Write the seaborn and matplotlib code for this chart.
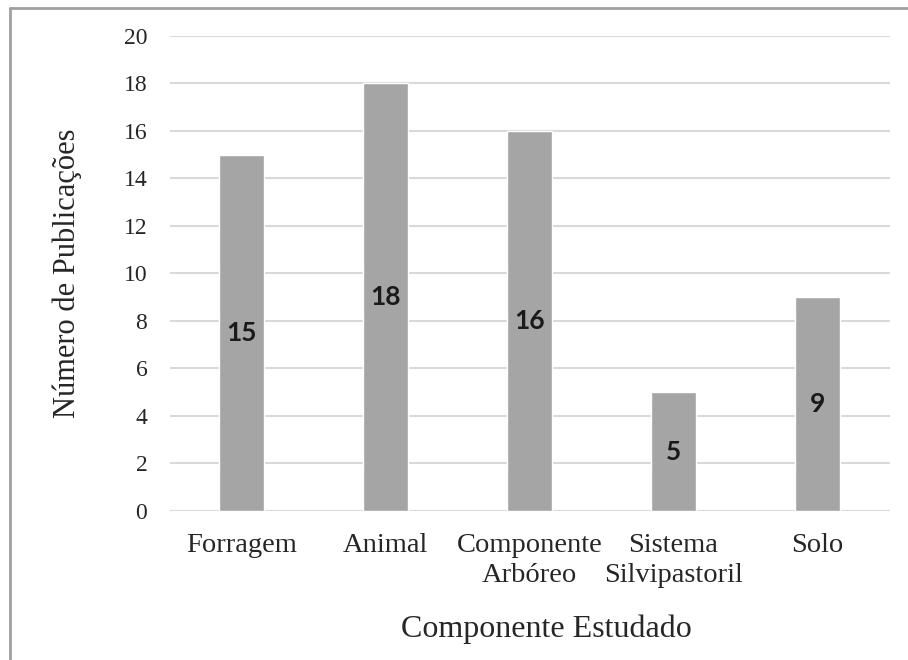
import matplotlib
matplotlib.use("Agg")
import matplotlib.pyplot as plt
from matplotlib.lines import Line2D
import pandas as pd
import seaborn as sns

componentes = ["Forragem", "Animal", "Componente\nArbóreo", "Sistema\nSilvipastoril", "Solo"]
publicacoes = [15, 18, 16, 5, 9]
y_ticks = [0, 2, 4, 6, 8, 10, 12, 14, 16, 18, 20]

df = pd.DataFrame({"Componente": componentes, "Publicacoes": publicacoes})

sns.set_theme(style="white")
plt.rcParams["font.family"] = ["Liberation Serif", "DejaVu Serif"]

W, H = 908, 660
fig = plt.figure(figsize=(W / 100, H / 100), dpi=100)
ax = fig.add_axes([169.5 / W, 1 - 511 / H, (889.5 - 169.5) / W, (511 - 35.7) / H])

sns.barplot(data=df, x="Componente", y="Publicacoes", color="#a5a5a5",
            saturation=1, width=0.3125, ax=ax, zorder=3)

ax.set_ylim(0, 20)
ax.set_xlim(-0.5, 4.5)
ax.set_yticks(y_ticks)
ax.yaxis.grid(True, color="#d9d9d9", linewidth=1.5, zorder=0)
ax.xaxis.grid(False)
for s in ax.spines.values():
    s.set_visible(False)
ax.tick_params(axis="y", length=0, pad=16, labelsize=17, labelcolor="#262626")
ax.tick_params(axis="x", length=0, pad=16, labelsize=20.5, labelcolor="#262626")
for lab in ax.get_xticklabels():
    lab.set_linespacing(1.25)

ax.set_ylabel("Número de Publicações", fontsize=22, color="#262626", labelpad=30)
ax.set_xlabel("Componente Estudado", fontsize=23, color="#262626")
ax.xaxis.set_label_coords(0.523, -0.218)

for cont in ax.containers:
    ax.bar_label(cont, fmt="%d", label_type="center", fontsize=19,
                 fontweight="bold", family=["Lato", "DejaVu Sans"], color="#1a1a1a")

# frame lines along the left and top edges
fig.add_artist(Line2D([10 / W, 10 / W], [0, 1 - 8 / H], transform=fig.transFigure,
                      color="#a0a0a0", linewidth=2))
fig.add_artist(Line2D([10 / W, 1], [1 - 8 / H, 1 - 8 / H], transform=fig.transFigure,
                      color="#a0a0a0", linewidth=2))

fig.savefig("out.png", dpi=100)
